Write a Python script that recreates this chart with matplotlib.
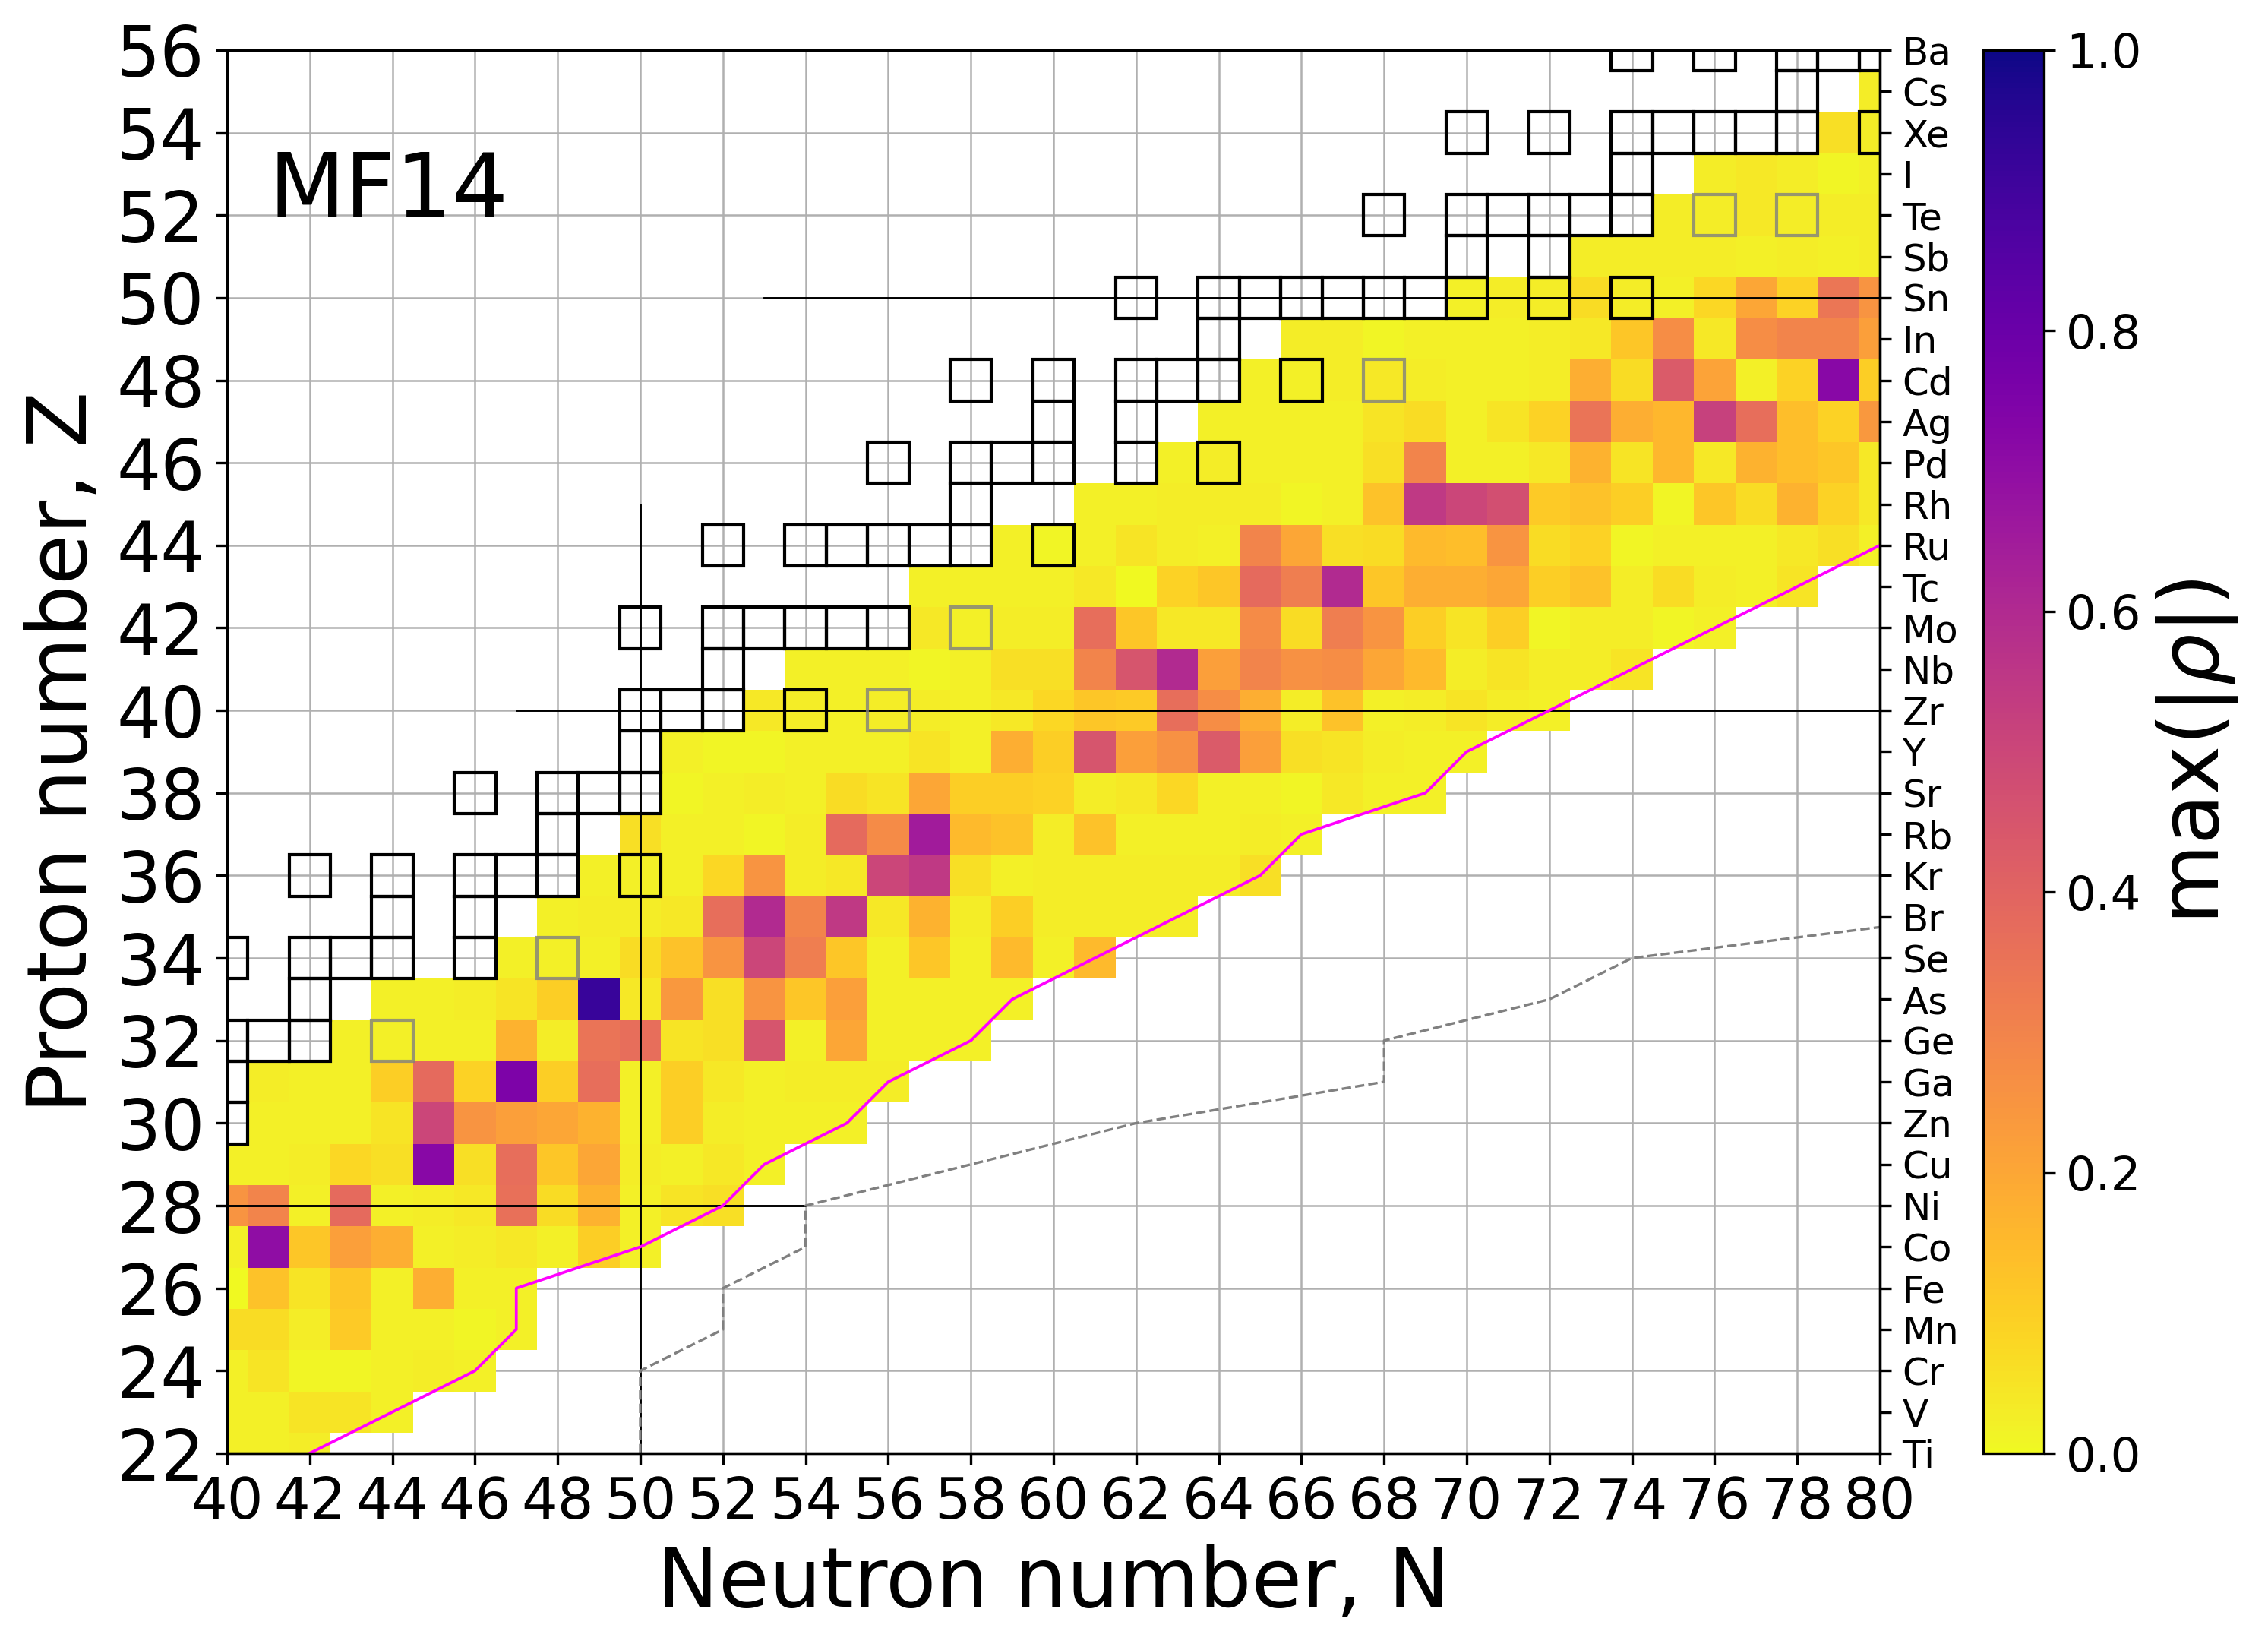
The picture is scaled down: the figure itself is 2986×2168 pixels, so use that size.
import numpy as np
import matplotlib
matplotlib.use("Agg")
import matplotlib.pyplot as plt
from matplotlib.patches import Rectangle

## max(|rho|), one list per proton number Z
## each list starts at the neutron number given in first_n
Z22 = [0.02, 0.02, 0.03]
Z23 = [0.02, 0.02, 0.05, 0.05, 0.02]
Z24 = [0.02, 0.05, 0.01, 0.01, 0.02, 0.03, 0.02]
Z25 = [0.07, 0.07, 0.03, 0.11, 0.02, 0.02, 0.01, 0.02]
Z26 = [0.00, 0.13, 0.05, 0.12, 0.02, 0.18, 0.02, 0.02]
Z27 = [0.02, 0.70, 0.12, 0.22, 0.18, 0.02, 0.03, 0.04, 0.02, 0.10, 0.02]
Z28 = [0.25, 0.30, 0.02, 0.38, 0.02, 0.03, 0.04, 0.36, 0.07, 0.17, 0.02, 0.05, 0.06]
Z29 = [0.02, 0.02, 0.03, 0.08, 0.06, 0.72, 0.06, 0.37, 0.12, 0.20, 0.03, 0.02, 0.04, 0.02]
Z30 = [0.02, 0.02, 0.02, 0.05, 0.50, 0.25, 0.22, 0.20, 0.17, 0.02, 0.10, 0.03, 0.02, 0.02, 0.02]
Z31 = [0.03, 0.02, 0.02, 0.10, 0.38, 0.09, 0.75, 0.10, 0.37, 0.02, 0.10, 0.04, 0.02, 0.03, 0.03, 0.03]
Z32 = [0.02, 0.02, 0.02, 0.02, 0.17, 0.03, 0.35, 0.37, 0.05, 0.06, 0.45, 0.02, 0.20, 0.02, 0.02, 0.02]
Z33 = [0.02, 0.02, 0.03, 0.05, 0.10, 0.92, 0.04, 0.24, 0.06, 0.25, 0.12, 0.22, 0.02, 0.02, 0.02, 0.02]
Z34 = [0.02, 0.02, 0.02, 0.07, 0.13, 0.25, 0.50, 0.32, 0.12, 0.02, 0.12, 0.02, 0.15, 0.02, 0.15]
Z35 = [0.02, 0.03, 0.03, 0.04, 0.37, 0.60, 0.30, 0.55, 0.04, 0.17, 0.03, 0.10, 0.03, 0.03, 0.03, 0.03]
Z36 = [0.02, 0.02, 0.02, 0.08, 0.25, 0.03, 0.04, 0.50, 0.55, 0.06, 0.02, 0.03, 0.03, 0.03, 0.03, 0.03, 0.06]
Z37 = [0.06, 0.02, 0.02, 0.01, 0.03, 0.38, 0.28, 0.65, 0.15, 0.13, 0.03, 0.13, 0.02, 0.02, 0.02, 0.03, 0.02]
Z38 = [0.01, 0.02, 0.03, 0.02, 0.07, 0.05, 0.20, 0.10, 0.10, 0.09, 0.03, 0.04, 0.08, 0.02, 0.02, 0.01, 0.04, 0.02, 0.02]
Z39 = [0.02, 0.01, 0.01, 0.02, 0.02, 0.02, 0.05, 0.02, 0.18, 0.10, 0.45, 0.22, 0.26, 0.43, 0.22, 0.06, 0.05, 0.03, 0.02, 0.02]
Z40 = [0.04, 0.03, 0.02, 0.03, 0.03, 0.02, 0.04, 0.08, 0.12, 0.11, 0.37, 0.27, 0.18, 0.03, 0.13, 0.02, 0.03, 0.05, 0.03, 0.02]
Z41 = [0.02, 0.02, 0.02, 0.01, 0.02, 0.06, 0.06, 0.30, 0.45, 0.60, 0.22, 0.30, 0.26, 0.27, 0.20, 0.15, 0.03, 0.05, 0.03, 0.03, 0.05]
Z42 = [0.04, 0.02, 0.03, 0.03, 0.37, 0.12, 0.04, 0.04, 0.28, 0.07, 0.32, 0.25, 0.10, 0.05, 0.10, 0.01, 0.03, 0.03, 0.01, 0.02]
Z43 = [0.02, 0.02, 0.02, 0.02, 0.04, 0.00, 0.09, 0.12, 0.38, 0.32, 0.60, 0.12, 0.18, 0.18, 0.20, 0.10, 0.13, 0.03, 0.07, 0.03, 0.02, 0.05]
Z44 = [0.02, 0.01, 0.02, 0.05, 0.03, 0.02, 0.30, 0.20, 0.06, 0.07, 0.15, 0.14, 0.25, 0.07, 0.09, 0.01, 0.02, 0.02, 0.02, 0.04, 0.06, 0.02]
Z45 = [0.02, 0.02, 0.03, 0.03, 0.03, 0.01, 0.02, 0.13, 0.55, 0.50, 0.47, 0.11, 0.13, 0.10, 0.01, 0.12, 0.07, 0.17, 0.09, 0.04]
Z46 = [0.02, 0.03, 0.02, 0.02, 0.02, 0.06, 0.30, 0.02, 0.02, 0.04, 0.17, 0.05, 0.16, 0.04, 0.17, 0.14, 0.12, 0.04]
Z47 = [0.02, 0.02, 0.02, 0.02, 0.05, 0.07, 0.02, 0.05, 0.09, 0.35, 0.18, 0.16, 0.52, 0.37, 0.14, 0.09, 0.24]
Z48 = [0.02, 0.02, 0.03, 0.04, 0.03, 0.02, 0.02, 0.03, 0.18, 0.07, 0.43, 0.21, 0.02, 0.09, 0.72, 0.10]
Z49 = [0.03, 0.03, 0.01, 0.02, 0.02, 0.02, 0.03, 0.04, 0.12, 0.27, 0.04, 0.27, 0.30, 0.30, 0.22]
Z50 = [0.02, 0.03, 0.03, 0.07, 0.03, 0.02, 0.08, 0.20, 0.09, 0.34, 0.25]
Z51 = [0.03, 0.03, 0.03, 0.03, 0.02, 0.03, 0.02, 0.03]
Z52 = [0.03, 0.03, 0.04, 0.03, 0.03, 0.03]
Z53 = [0.03, 0.04, 0.03, 0.01, 0.02]
Z54 = [0.06, 0.03]
Z55 = [0.03]
Z56 = []

first_n = [40, 40, 40, 40, 40, 40, 40, 40, 41, 41, 43, 44, 47, 48, 49, 50, 51, 51,
           53, 54, 57, 57, 59, 61, 63, 64, 65, 66, 70, 73, 75, 76, 79, 80, 80]

elements = ['Ti', 'V', 'Cr', 'Mn', 'Fe', 'Co', 'Ni', 'Cu', 'Zn', 'Ga', 'Ge', 'As',
            'Se', 'Br', 'Kr', 'Rb', 'Sr', 'Y', 'Zr', 'Nb', 'Mo', 'Tc', 'Ru', 'Rh',
            'Pd', 'Ag', 'Cd', 'In', 'Sn', 'Sb', 'Te', 'I', 'Xe', 'Cs', 'Ba']

## stable nuclei (black boxes), Z -> list of N
stable = {30: [40], 31: [40], 32: [40, 41, 42], 33: [42], 34: [40, 42, 43, 44, 46],
          35: [44, 46], 36: [42, 44, 46, 47, 48, 50], 37: [48], 38: [46, 48, 49, 50],
          39: [50], 40: [50, 51, 52, 54], 41: [52], 42: [50, 52, 53, 54, 55, 56],
          44: [52, 54, 55, 56, 57, 58, 60], 45: [58], 46: [56, 58, 59, 60, 62, 64],
          47: [60, 62], 48: [58, 60, 62, 63, 64, 66], 49: [64],
          50: [62, 64, 65, 66, 67, 68, 69, 70, 72, 74], 51: [70, 72],
          52: [68, 70, 71, 72, 73, 74], 53: [74], 54: [70, 72, 74, 75, 76, 77, 78, 80],
          55: [78], 56: [74, 76, 78, 79, 80]}
## long-lived double-beta emitters (grey boxes)
grey_N = [44, 48, 56, 58, 68, 76, 78]
grey_Z = [32, 34, 40, 42, 48, 52, 52]

## two-neutron drip line (magenta) and the dashed line
drip_N = [42, 46, 47, 47, 50, 52, 53, 55, 56, 58, 59, 65, 66, 69, 70, 80]
drip_Z = [22, 24, 25, 26, 27, 28, 29, 30, 31, 32, 33, 36, 37, 38, 39, 44]
dash_N = [50, 50, 52, 52, 54, 54, 62, 68, 68, 72, 74, 82]
dash_Z = [22, 24, 25, 26, 27, 28, 30, 31, 32, 33, 34, 35]


rows = [Z22, Z23, Z24, Z25, Z26, Z27, Z28, Z29, Z30, Z31, Z32, Z33, Z34, Z35, Z36, Z37, Z38,
        Z39, Z40, Z41, Z42, Z43, Z44, Z45, Z46, Z47, Z48, Z49, Z50, Z51, Z52, Z53, Z54, Z55, Z56]
Nvals = np.arange(40, 81)
Zvals = np.arange(22, 57)
grid = np.full((len(Zvals), len(Nvals)), np.nan)
for i, (n0, row) in enumerate(zip(first_n, rows)):
    for j, v in enumerate(row):
        grid[i, n0 - 40 + j] = v
grid = np.ma.masked_invalid(grid)

fig = plt.figure(figsize=(2986 / 300, 2168 / 300), dpi=300)
ax = fig.add_axes([0.1001, 0.1176, 0.7288, 0.852])
cax = fig.add_axes([0.8744, 0.1176, 0.0268, 0.852])

ax.set_axisbelow(True)
ax.grid(True, color='#b0b0b0', lw=0.6)
mesh = ax.pcolormesh(np.arange(39.5, 81), np.arange(21.5, 57), grid,
                     cmap='plasma_r', vmin=0, vmax=1, zorder=1)

# magic numbers
ax.plot([40, 54], [28, 28], color='k', lw=0.7, zorder=2)
ax.plot([50, 50], [22, 45], color='k', lw=0.7, zorder=2)
ax.plot([47, 80], [40, 40], color='k', lw=0.7, zorder=2)
ax.plot([53, 80], [50, 50], color='k', lw=0.7, zorder=2)

ax.plot(drip_N, drip_Z, color='magenta', lw=0.9, zorder=4)
ax.plot(dash_N, dash_Z, color='grey', lw=0.8, ls='--', zorder=2)

for z, ns in stable.items():
    for n in ns:
        ax.add_patch(Rectangle((n - 0.5, z - 0.5), 1, 1, fill=False,
                               ec='k', lw=1.0, zorder=3))
for n, z in zip(grey_N, grey_Z):
    ax.add_patch(Rectangle((n - 0.5, z - 0.5), 1, 1, fill=False,
                           ec='grey', alpha=0.8, lw=1.0, zorder=3))

ax.set_xlim(40, 80)
ax.set_ylim(22, 56)
ax.set_xticks(np.arange(40, 81, 2))
ax.set_yticks(np.arange(22, 57, 2))
ax.tick_params(axis='x', labelsize=18)
ax.tick_params(axis='y', labelsize=22)
ax.set_xlabel('Neutron number, N', fontsize=26)
ax.set_ylabel('Proton number, Z', fontsize=26)
ax.text(41.0, 51.95, 'MF14', fontsize=28, va='baseline')

ax2 = ax.twinx()
ax2.set_ylim(22, 56)
ax2.set_yticks(Zvals)
ax2.set_yticklabels(elements, fontsize=12)

cbar = fig.colorbar(mesh, cax=cax)
cbar.set_label(r'max($|\rho|$)', fontsize=26)
cbar.ax.tick_params(labelsize=15)

fig.savefig('out.png', dpi=300)
